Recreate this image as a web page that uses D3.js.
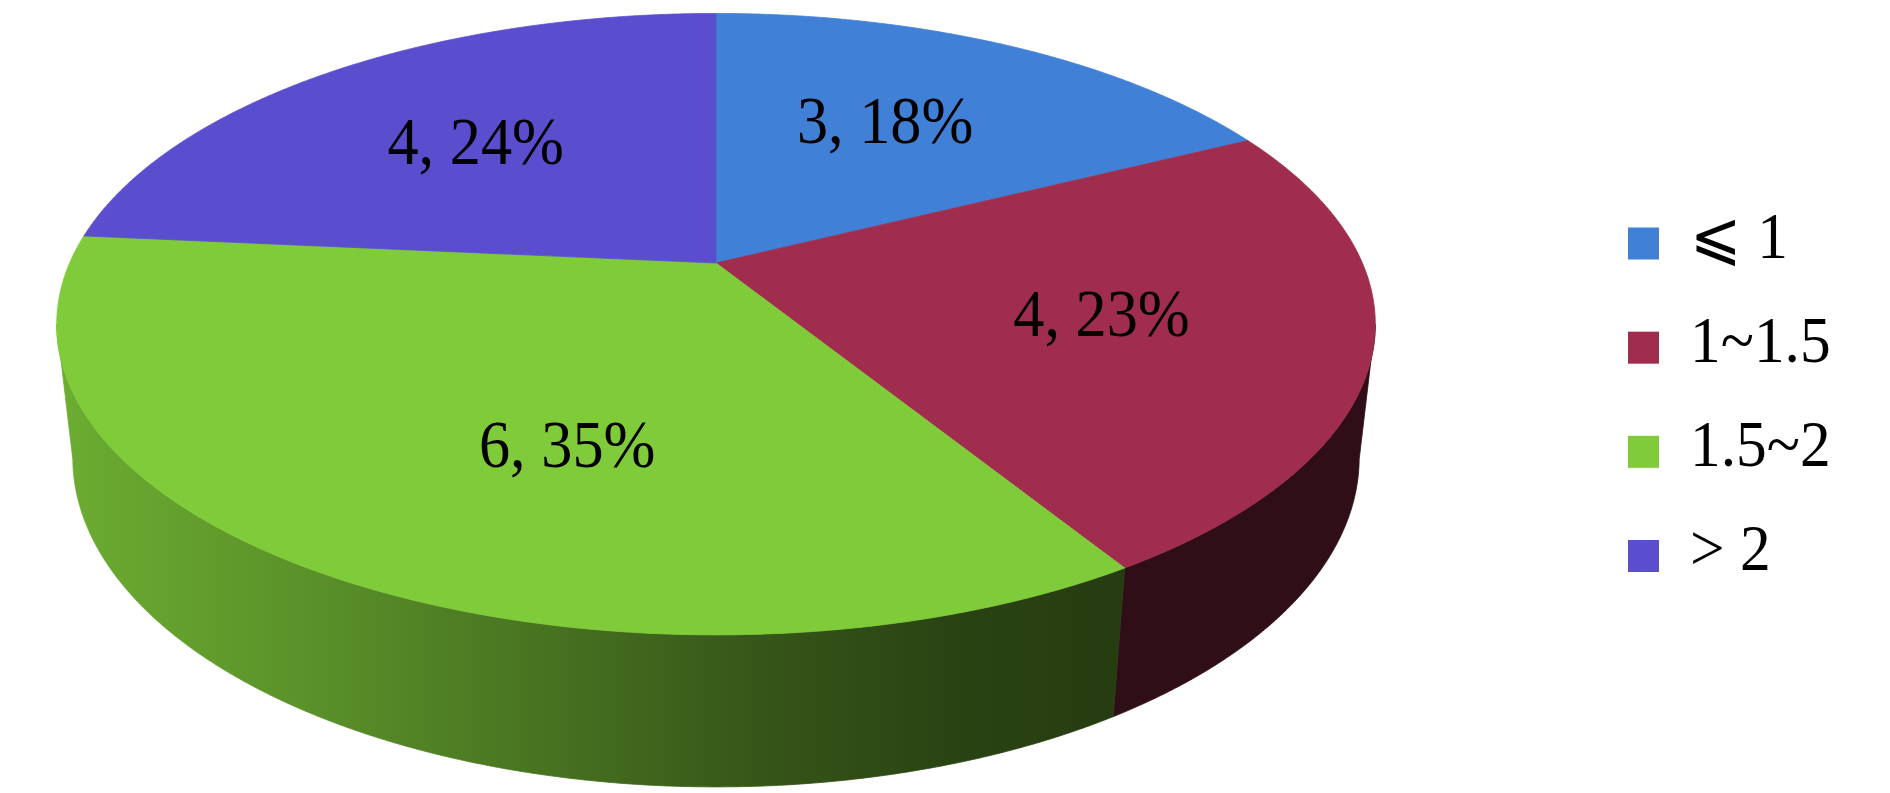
<!DOCTYPE html>
<html>
<head>
<meta charset="utf-8">
<script src="https://cdn.jsdelivr.net/npm/d3@7"></script>
<style>
  body { margin: 0; background: #fff; }
  text { font-family: "Liberation Serif", "Times New Roman", "DejaVu Serif", serif; fill: #000; }
</style>
</head>
<body>
<div id="chart"></div>
<script>
// data
var categories = ["\u2A7D 1", "1~1.5", "1.5~2", "> 2"];
var counts = [3, 4, 6, 4];
var percents = [18, 23, 35, 24];
var colors = ["#4080d6", "#a02d4d", "#7fcb3a", "#5a4ecf"];

// label placement tweaks (angle shift in degrees, radius fraction)
var labelNudge = [[-3, 0.6], [0, 0.6], [-11, 0.58], [0, 0.6]];

var width = 1890, height = 793;

// 3d view of the pie: a disc of radius 1 seen from above with perspective
var cx = 716, cy = 263;
var F = 2912, D = 4.505, H = 0.235;
var phi = 27.52 * Math.PI / 180;
var sinP = Math.sin(phi), cosP = Math.cos(phi);
var k = cosP / D;

function proj(t, r, bottom) {
  var X = r * Math.sin(t), Z = -r * Math.cos(t), Y = bottom ? -H : 0;
  var depth = D - Y * sinP - Z * cosP;
  var up = Y * cosP - Z * sinP;
  return [cx + F * X / depth, cy - F * up / depth];
}

function arcPts(a, b, r, bottom) {
  var n = Math.max(2, Math.ceil((b - a) / 0.005));
  var pts = [];
  for (var i = 0; i <= n; i++) pts.push(proj(a + (b - a) * i / n, r, bottom));
  return pts;
}

var svg = d3.select("#chart")
  .append("svg")
    .attr("width", width)
    .attr("height", height);

var arcs = d3.pie().sort(null).value(function(d) { return d; })(counts);
var line = d3.line();

// side shading, lighter on the left, dark on the right
var shadeX = [56, 300, 550, 750, 950, 1100, 1375];
var shadeK = [0.85, 0.72, 0.56, 0.43, 0.33, 0.3, 0.3];
var defs = svg.append("defs");
colors.forEach(function(c, i) {
  var g = defs.append("linearGradient")
    .attr("id", "side" + i)
    .attr("gradientUnits", "userSpaceOnUse")
    .attr("x1", shadeX[0]).attr("x2", shadeX[shadeX.length - 1])
    .attr("y1", 0).attr("y2", 0);
  var base = d3.rgb(c);
  shadeX.forEach(function(x, j) {
    var kk = shadeK[j];
    g.append("stop")
      .attr("offset", (x - shadeX[0]) / (shadeX[shadeX.length - 1] - shadeX[0]))
      .attr("stop-color", d3.rgb(base.r * kk, base.g * kk, base.b * kk).formatHex());
  });
});

// visible front part of the rim
var tRight = Math.acos(-k), tLeft = 2 * Math.PI - tRight;

arcs.forEach(function(d, i) {
  var a = Math.max(d.startAngle, tRight), b = Math.min(d.endAngle, tLeft);
  if (b <= a) return;
  var pts = arcPts(a, b, 1, false).concat(arcPts(a, b, 1, true).reverse());
  svg.append("path")
    .attr("d", line(pts) + "Z")
    .attr("fill", "url(#side" + i + ")")
    .attr("stroke", "url(#side" + i + ")")
    .attr("stroke-width", 0.8);
});

// top faces
arcs.forEach(function(d, i) {
  var pts = [proj(0, 0, false)].concat(arcPts(d.startAngle, d.endAngle, 1, false));
  svg.append("path")
    .attr("d", line(pts) + "Z")
    .attr("fill", colors[i])
    .attr("stroke", colors[i])
    .attr("stroke-width", 0.8);
});

// data labels
arcs.forEach(function(d, i) {
  var mid = (d.startAngle + d.endAngle) / 2 + labelNudge[i][0] * Math.PI / 180;
  var p = proj(mid, labelNudge[i][1], false);
  svg.append("text")
    .attr("transform", "translate(" + p[0] + "," + p[1] + ") scale(0.93,1)")
    .attr("text-anchor", "middle")
    .attr("dy", "0.34em")
    .attr("font-size", 67)
    .text(counts[i] + ", " + percents[i] + "%");
});

// legend
var ly = d3.scalePoint().domain(categories).range([243.5, 556]);
var legend = svg.append("g");
categories.forEach(function(c, i) {
  legend.append("rect")
    .attr("x", 1628)
    .attr("y", ly(c) - 16)
    .attr("width", 31)
    .attr("height", 32)
    .attr("fill", colors[i]);
  legend.append("text")
    .attr("transform", "translate(1690," + (ly(c) + 14) + ") scale(0.93,1)")
    .attr("font-size", 66)
    .text(c);
});
</script>
</body>
</html>
